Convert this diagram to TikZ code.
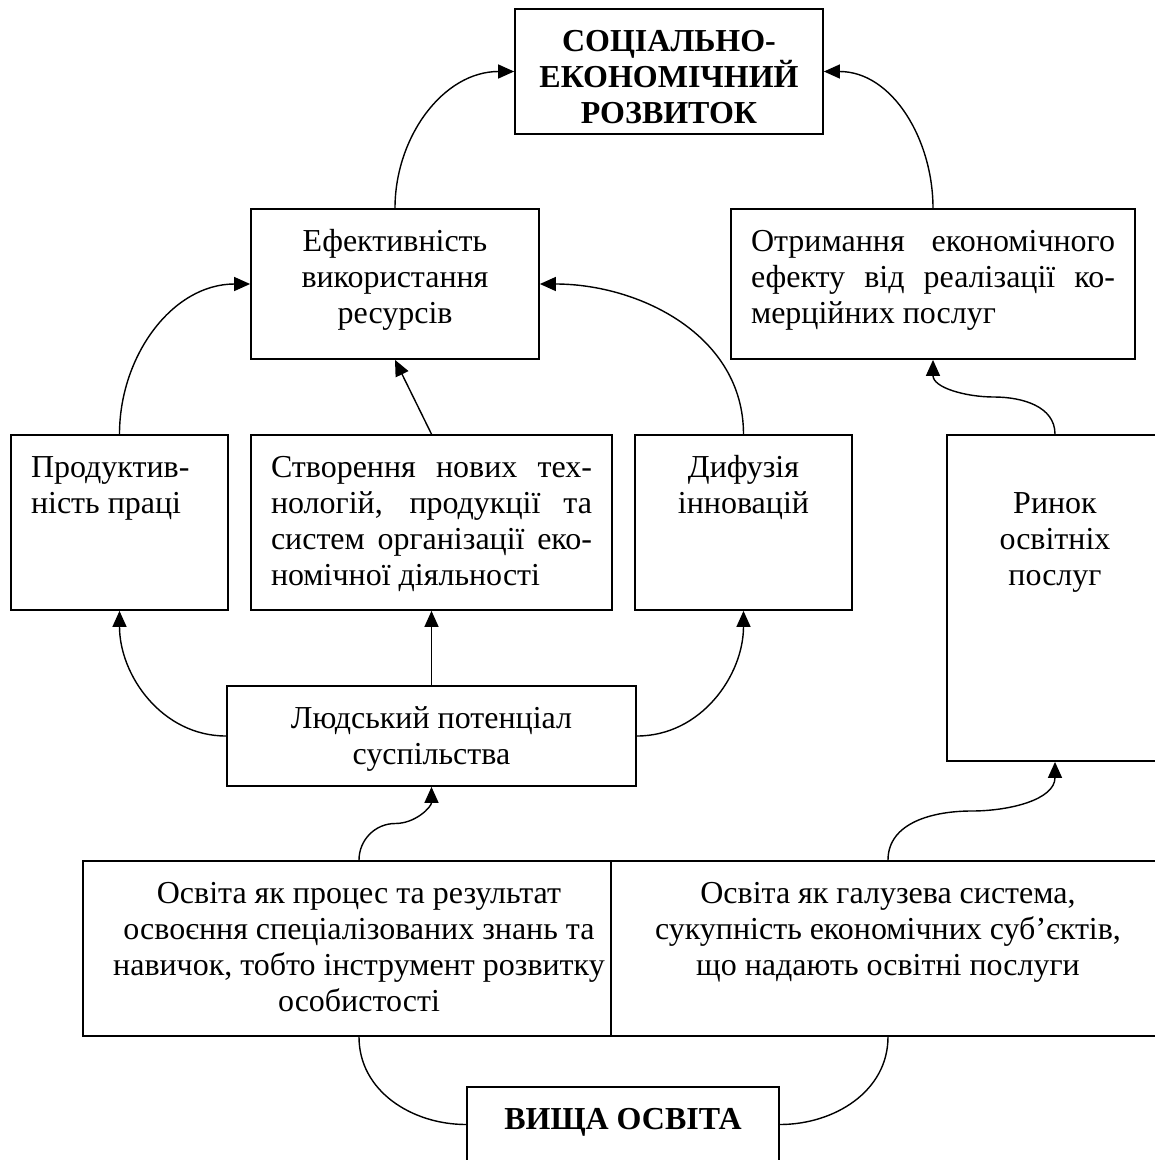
\documentclass[tikz,border=0pt]{standalone}
\usepackage{fontspec}
\setmainfont{Liberation Serif}
\usepackage{tikz}
\usetikzlibrary{arrows.meta, calc}

\newcommand{\boxtext}[4]{\parbox[c][#2][t]{\dimexpr#1-0.8cm\relax}{#3\rule{0pt}{0.84cm}#4}}
\newcommand{\fullline}[1]{\makebox[\linewidth][s]{#1}}

\begin{document}
\begin{tikzpicture}[
    font=\fontsize{18.2}{20.5}\selectfont,
    blk/.style={draw, line width=1pt, fill=white, inner xsep=0.4cm, inner ysep=0pt},
    arr/.style={-{Triangle[length=0.32cm, width=0.28cm]}, line width=0.8pt},
    lnk/.style={line width=0.8pt}
  ]
  \useasboundingbox (0,0) rectangle (23.1,-23.2);
  \clip (0,0) rectangle (23.1,-23.2);

  \node[blk] (soc) at (13.38,-1.43)
    {\boxtext{6.16cm}{2.5cm}{\centering\bfseries}{СОЦІАЛЬНО-\\ЕКОНОМІЧНИЙ\\РОЗВИТОК}};

  \node[blk] (eff) at (7.9,-5.68)
    {\boxtext{5.76cm}{3cm}{\centering}{Ефективність\\використання\\ресурсів}};
  \node[blk] (otr) at (18.66,-5.68)
    {\boxtext{8.08cm}{3cm}{}{\fullline{Отримання економічного}\\\fullline{ефекту від реалізації ко-}\\мерційних послуг}};

  \node[blk] (prod) at (2.39,-10.45)
    {\boxtext{4.34cm}{3.5cm}{\raggedright}{Продуктив-\\ність праці}};
  \node[blk] (stv) at (8.63,-10.45)
    {\boxtext{7.22cm}{3.5cm}{}{\fullline{Створення нових тех-}\\\fullline{нологій, продукції та}\\\fullline{систем організації еко-}\\номічної діяльності}};
  \node[blk] (dyf) at (14.87,-10.45)
    {\boxtext{4.34cm}{3.5cm}{\centering}{Дифузія\\інновацій}};
  \node[blk] (rynok) at (21.1,-11.96)
    {\boxtext{4.32cm}{6.52cm}{\centering}{\mbox{}\\Ринок\\освітніх\\послуг}};

  \node[blk] (lyud) at (8.63,-14.72)
    {\boxtext{8.18cm}{2cm}{\centering}{Людський потенціал\\суспільства}};

  \node[blk] (osv1) at (7.18,-18.97)
    {\boxtext{11.04cm}{3.5cm}{\centering}{Освіта як процес та результат\\освоєння спеціалізованих знань та\\навичок, тобто інструмент розвитку\\особистості}};
  \node[blk] (osv2) at (17.76,-18.97)
    {\boxtext{11.08cm}{3.5cm}{\centering}{Освіта як галузева система,\\сукупність економічних суб’єктів,\\що надають освітні послуги}};

  \node[blk] (vyshcha) at (12.46,-22.49)
    {\boxtext{6.24cm}{1.5cm}{\centering\bfseries}{ВИЩА ОСВІТА}};

  \draw[arr] (eff.north) to[out=90, in=180] (soc.west);
  \draw[arr] (otr.north) to[out=90, in=0] (soc.east);
  \draw[arr] (prod.north) to[out=90, in=180] (eff.west);
  \draw[arr] (stv.north) -- (eff.south);
  \draw[arr] (dyf.north) to[out=90, in=0] (eff.east);
  \draw[arr] (rynok.north) to[out=90, in=0] ($(rynok.north)!0.5!(otr.south)$)
    to[out=180, in=-90] (otr.south);
  \draw[arr] (lyud.west) to[out=180, in=-90] (prod.south);
  \draw[arr] (lyud.north) -- (stv.south);
  \draw[arr] (lyud.east) to[out=0, in=-90] (dyf.south);
  \draw[arr] (osv1.north) to[out=90, in=180] ($(osv1.north)!0.5!(lyud.south)$)
    to[out=0, in=-90] (lyud.south);
  \draw[arr] (osv2.north) to[out=90, in=180] ($(osv2.north)!0.5!(rynok.south)$)
    to[out=0, in=-90] (rynok.south);
  \draw[lnk] (osv1.south) to[out=-90, in=180] (vyshcha.west);
  \draw[lnk] (osv2.south) to[out=-90, in=0] (vyshcha.east);
\end{tikzpicture}
\end{document}
